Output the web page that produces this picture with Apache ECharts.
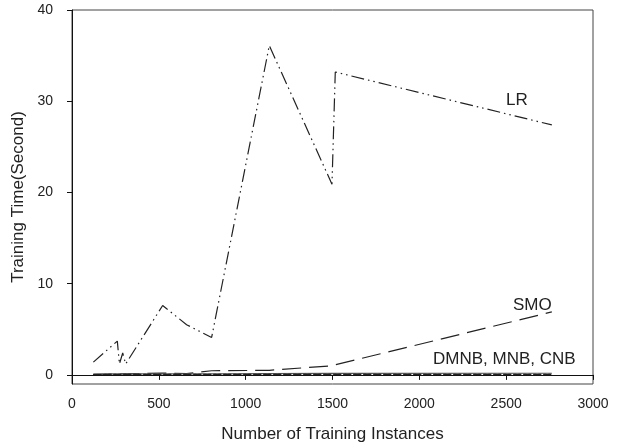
<!DOCTYPE html>
<html>
<head>
<meta charset="utf-8">
<script src="https://cdn.jsdelivr.net/npm/echarts@6/dist/echarts.min.js"></script>
<style>
  html, body { margin: 0; padding: 0; background: #fff; }
  #chart { width: 624px; height: 448px; }
</style>
</head>
<body>
<div id="chart"></div>
<script>
// training set sizes (x values)
const instances = [123, 261, 273, 292, 309, 522, 660, 804, 1136, 1497, 1516, 2763]

// training time in seconds
const lrTime   = [1.4, 3.7, 1.2, 2.4, 1.2, 7.6, 5.5, 4.1, 36.1, 20.9, 33.2, 27.4]
const smoTime  = [0.05, 0.1, 0.1, 0.1, 0.1, 0.2, 0.15, 0.45, 0.5, 1.0, 1.1, 6.9]
const dmnbTime = [0.08, 0.1, 0.1, 0.1, 0.1, 0.12, 0.12, 0.12, 0.14, 0.16, 0.16, 0.18]
const mnbTime  = [0.02, 0.03, 0.03, 0.03, 0.03, 0.03, 0.03, 0.03, 0.03, 0.03, 0.03, 0.03]
const cnbTime  = [0.04, 0.05, 0.05, 0.05, 0.05, 0.06, 0.06, 0.06, 0.06, 0.06, 0.06, 0.06]

const yTicks = [0, 10, 20, 30, 40]

const font = 'Liberation Sans, Arial, sans-serif'
const ink = '#222'

const pairs = ys => instances.map((x, i) => [x, ys[i]])

const line = (name, ys, type, color) => ({
  name: name,
  type: 'line',
  data: pairs(ys),
  symbol: 'none',
  silent: true,
  lineStyle: { color: color || ink, width: 1.2, type: type }
})

const chart = echarts.init(document.getElementById('chart'))

const option = {
  animation: false,
  grid: {
    left: 72,
    right: 31,
    top: 10,
    bottom: 64,
    show: true,
    borderColor: '#444',
    borderWidth: 1
  },
  xAxis: {
    type: 'value',
    min: 0,
    max: 3000,
    interval: 500,
    name: 'Number of Training Instances',
    nameLocation: 'middle',
    nameGap: 42,
    nameTextStyle: { fontFamily: font, fontSize: 17, color: ink },
    axisLine: { show: true, lineStyle: { color: '#111' } },
    axisTick: { show: true, length: 5, lineStyle: { color: '#111' } },
    axisLabel: { fontFamily: font, fontSize: 14, color: ink, margin: 13, formatter: v => String(v) },
    splitLine: { show: false }
  },
  yAxis: {
    type: 'value',
    min: -1,
    max: 40,
    name: 'Training Time(Second)',
    nameLocation: 'middle',
    nameGap: 38,
    nameTextStyle: { fontFamily: font, fontSize: 17, color: ink },
    axisLine: { show: true, lineStyle: { color: '#111' } },
    axisTick: { show: true, length: 5, customValues: yTicks, lineStyle: { color: '#111' } },
    axisLabel: { fontFamily: font, fontSize: 14, color: ink, margin: 19, customValues: yTicks },
    splitLine: { show: false }
  },
  series: [
    line('LR', lrTime, [13, 4, 1.5, 4, 1.5, 4]),
    line('SMO', smoTime, [19, 8]),
    line('DMNB', dmnbTime, 'solid', '#555'),
    line('MNB', mnbTime, [7, 3]),
    line('CNB', cnbTime, [3, 2])
  ],
  graphic: [
    { type: 'text', left: 506, top: 92, style: { text: 'LR', font: '17px ' + font, fill: ink } },
    { type: 'text', left: 513, top: 297, style: { text: 'SMO', font: '17px ' + font, fill: ink } },
    { type: 'text', left: 433, top: 351, style: { text: 'DMNB, MNB, CNB', font: '17px ' + font, fill: ink } }
  ]
}

chart.setOption(option)
</script>
</body>
</html>
